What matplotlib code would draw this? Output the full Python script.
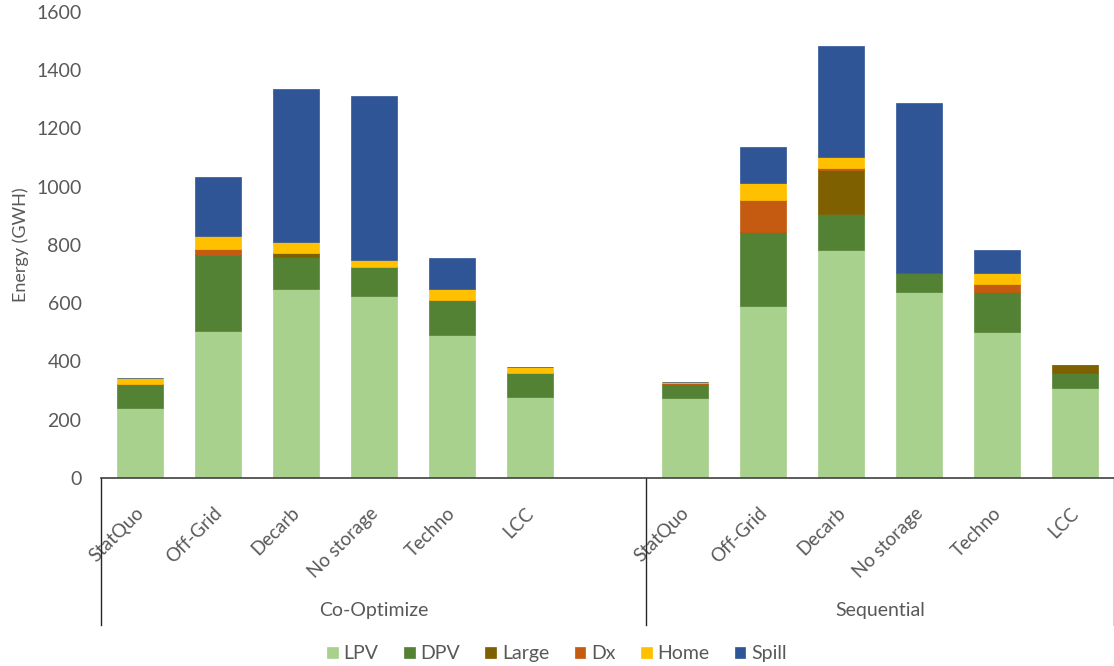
import matplotlib.pyplot as plt
import matplotlib.transforms as mtransforms
import numpy as np

plt.rcParams['font.family'] = ['Lato', 'DejaVu Sans']

scenarios = ["StatQuo", "Off-Grid", "Decarb", "No storage", "Techno", "LCC"]
groups = ["Co-Optimize", "Sequential"]

# GWh per source, Co-Optimize scenarios then Sequential scenarios
lpv = [241, 505, 648, 626, 491, 278, 273, 592, 784, 639, 501, 309]
dpv = [82, 260, 112, 100, 121, 81, 50, 253, 122, 65, 138, 50]
large = [0, 0, 13, 0, 0, 0, 0, 0, 152, 0, 0, 29]
dx = [0, 22, 0, 0, 0, 0, 3, 108, 7, 0, 27, 0]
home = [19, 45, 38, 24, 37, 22, 3, 60, 36, 0, 38, 0]
spill = [0, 201, 525, 561, 106, 0, 0, 122, 382, 583, 78, 0]

series = [("LPV", lpv, "#A9D18E"), ("DPV", dpv, "#548235"),
          ("Large", large, "#7F6000"), ("Dx", dx, "#C55A11"),
          ("Home", home, "#FFC000"), ("Spill", spill, "#2F5597")]

grey = "#595959"
n = len(scenarios)
# one empty slot between the two groups
pos = np.concatenate([np.arange(n), np.arange(n) + n + 1])

fig = plt.figure(figsize=(11.14, 6.66), dpi=100)
ax = fig.add_axes([0.0907, 0.2823, 0.9093, 0.6997])

bottom = np.zeros(len(pos))
for name, vals, color in series:
    vals = np.array(vals, dtype=float)
    ax.bar(pos, vals, width=0.59, bottom=bottom, color=color, label=name,
           edgecolor=color, linewidth=0.5)
    bottom += vals

ax.set_xlim(-0.5, 2 * n + 0.5)
ax.set_ylim(0, 1600)
ax.set_yticks(range(0, 1601, 200))
ax.tick_params(axis='y', length=0, pad=14, labelsize=14, labelcolor=grey)
ax.set_xticks(pos)
ax.set_xticklabels(scenarios * 2, rotation=45, ha='right', va='baseline',
                   rotation_mode='anchor', fontsize=13.5, color=grey)
ax.tick_params(axis='x', length=0, pad=26)
shift = mtransforms.ScaledTranslation(0.05, 0, fig.dpi_scale_trans)
for lbl in ax.get_xticklabels():
    lbl.set_transform(lbl.get_transform() + shift)
for s in ["top", "right", "left"]:
    ax.spines[s].set_visible(False)
ax.spines["bottom"].set_color("#404040")
ax.spines["bottom"].set_linewidth(1.2)
ax.set_ylabel("Energy (GWH)", fontsize=13, color=grey)
ax.yaxis.set_label_coords(-0.071, 0.5)

# group separators and group names under the category labels
trans = mtransforms.blended_transform_factory(ax.transData, ax.transAxes)
for xb in [-0.5, n + 0.5, 2 * n + 0.5]:
    ax.plot([xb, xb], [0, -0.315], transform=trans, color="#262626",
            linewidth=1.0, clip_on=False)
centers = [(-0.5 + n + 0.5) / 2, (n + 0.5 + 2 * n + 0.5) / 2]
for c, g in zip(centers, groups):
    ax.text(c, -0.285, g, transform=trans, ha='center', va='center',
            fontsize=14, color=grey)

fig.legend(loc='lower center', bbox_to_anchor=(0.5, -0.021), ncol=6,
           frameon=False, fontsize=14, labelcolor=grey, handlelength=0.55,
           handleheight=0.55, columnspacing=1.3, handletextpad=0.3)

fig.savefig("out.png", dpi=100)
